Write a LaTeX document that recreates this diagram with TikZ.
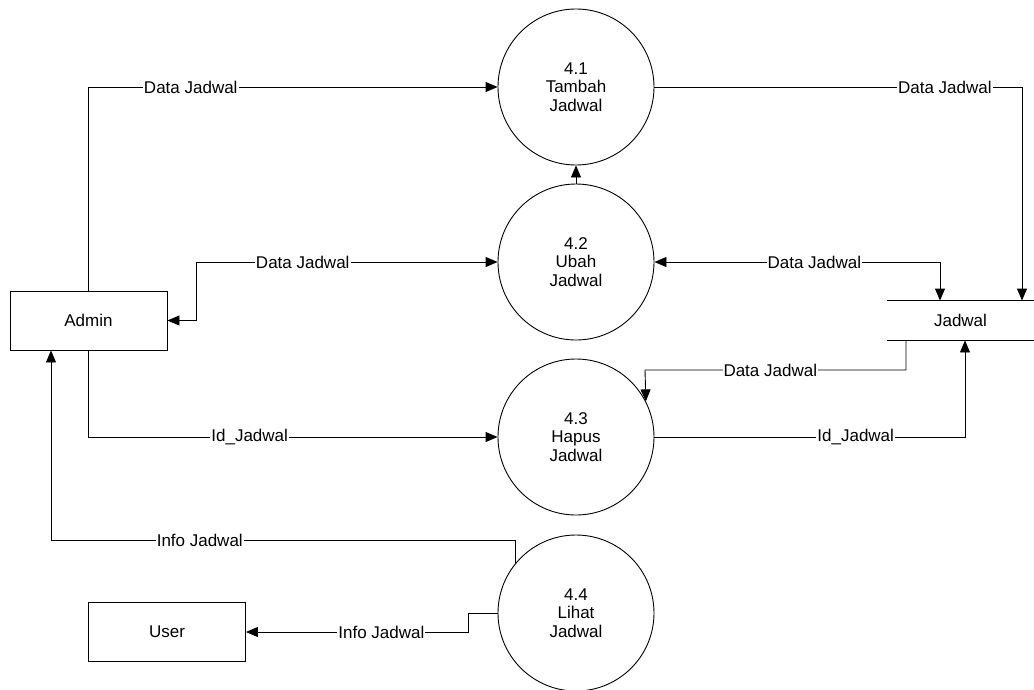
\documentclass[tikz,border=0pt]{standalone}
\usepackage{fontspec}
\setmainfont{Liberation Sans}
\usetikzlibrary{arrows.meta}
\usetikzlibrary{positioning}

\begin{document}
\begin{tikzpicture}[x=1pt,y=-1pt,line width=0.9pt,
		font=\fontsize{17}{18.5}\selectfont,
		proc/.style={draw,circle,minimum size=156pt,inner sep=0pt,align=center},
		ent/.style={draw,minimum width=157pt,minimum height=59pt,inner sep=0pt},
		lbl/.style={fill=white,inner sep=1pt},
		flow/.style={-{Triangle[length=12pt,width=10pt]}},
		flows/.style={{Triangle[length=12pt,width=10pt]}-{Triangle[length=12pt,width=10pt]}}]

					\useasboundingbox (0,0) rectangle (1034,689);

					% entitas dan proses
					\node[ent] (admin) at (88.5,320.5) {Admin};
					\node[ent] (user) at (167,632) {User};
					\node[proc] (p1) at (576,87) {4.1\\Tambah\\Jadwal};
					\node[proc] (p2) at (576,262) {4.2\\Ubah\\Jadwal};
					\node[proc] (p3) at (576,437) {4.3\\Hapus\\Jadwal};
					\node[proc] (p4) at (576,613) {4.4\\Lihat\\Jadwal};
					\node[minimum width=147pt,minimum height=39pt,inner sep=0pt] (store) at (960.5,320.5) {Jadwal};
					\draw (store.north west) -- (store.north east);
					\draw (store.south west) -- (store.south east);

					% titik belok
					\coordinate (xa) at (1022,0);
					\coordinate (xb) at (940,0);
					\coordinate (xc) at (906,0);
					\coordinate (xd) at (965,0);
					\coordinate (ba) at (196,262);
					\coordinate (bb) at (645,370);
					\coordinate (bc) at (51,540);
					\coordinate (bd) at (468,613);

					\draw[flow] (admin.north) |- node[lbl,pos=0.625] {Data Jadwal} (p1.west);
					\draw[flow] (p1.east) -| node[lbl,pos=0.395] {Data Jadwal} (store.north -| xa);
					\draw[flow] (p2.north) -- (p1.south);
					\draw[flows] (p2.west) -- node[lbl,pos=0.646] {Data Jadwal} (ba) |- (admin.east);
					\draw[flows] (p2.east) -- node[lbl,pos=0.56] {Data Jadwal} (p2.east -| xb) -- (store.north -| xb);
					\draw[flow] (store.south -| xc) |- node[lbl,pos=0.76] {Data Jadwal} (bb) -- (p3.27.6);
					\draw[flow] (admin.south) |- node[lbl,pos=0.697] {Id\_Jadwal} (p3.west);
					\draw[flow] (p3.east) -| node[lbl,pos=0.324] {Id\_Jadwal} (store.south -| xd);
					\draw[flow] (p4.140) |- node[lbl,pos=0.84] {Info Jadwal} (bc) -- (admin.south -| bc);
					\draw[flow] (p4.west) -- (bd) |- node[lbl,pos=0.695] {Info Jadwal} (user.east);

\end{tikzpicture}
\end{document}
